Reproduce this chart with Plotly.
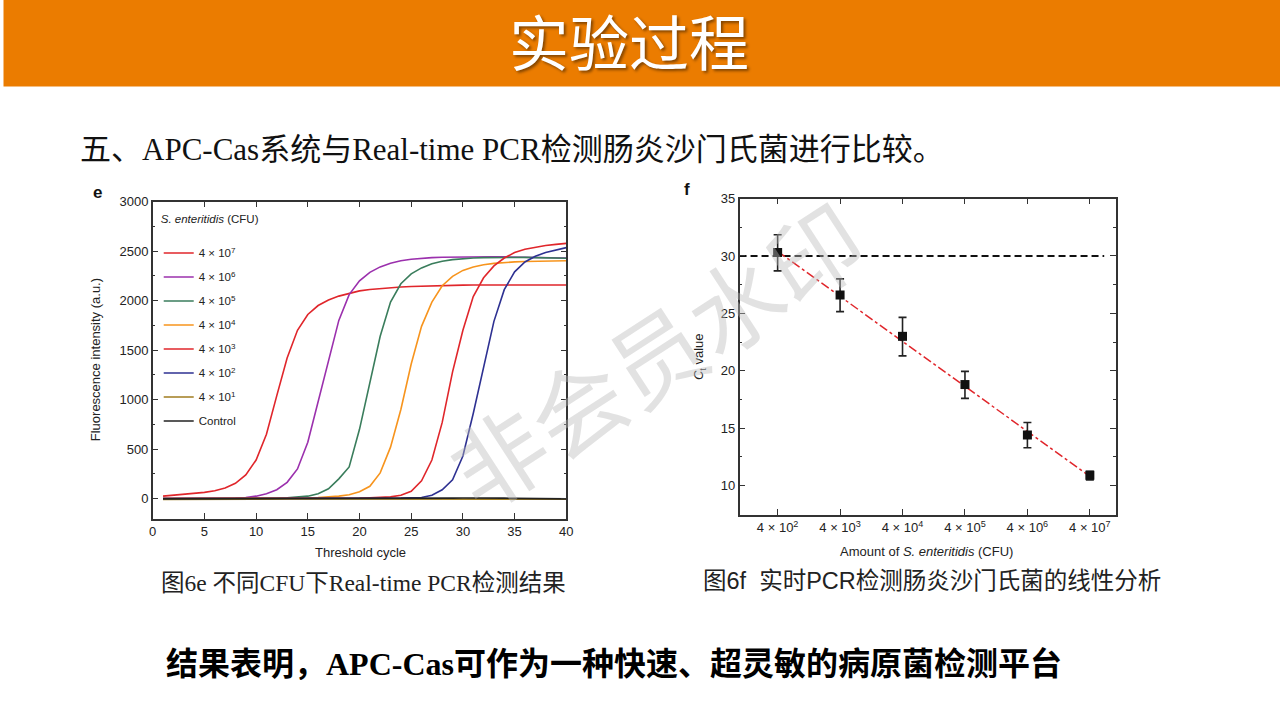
import plotly.graph_objects as go

W, H = 1280, 720
# the viewer maps the page slightly (scale ~0.99, offset ~2.5/7.5 px); positions are given in target pixels
S, OX, OY = 0.99, 2.5, 7.5
def px(x): return ((x - OX) / S) / W
def py(y): return 1 - ((y - OY) / S) / H

# ---------------- Data: panel e (qPCR amplification curves) ----------------
cycles = list(range(1, 41))
series_names = ["4 × 10<sup>7</sup>", "4 × 10<sup>6</sup>", "4 × 10<sup>5</sup>", "4 × 10<sup>4</sup>",
                "4 × 10<sup>3</sup>", "4 × 10<sup>2</sup>", "4 × 10<sup>1</sup>", "Control"]
series_colors = ["#e0262b", "#9b30ad", "#3a7d5c", "#f7941d", "#e0262b", "#2e3192", "#a07d1f", "#222222"]

cfu_4e7 = [25, 33, 42, 52, 63, 80, 108, 155, 240, 390, 650, 1040, 1420, 1700, 1860, 1950, 2005, 2045, 2075, 2098,
           2112, 2122, 2130, 2137, 2142, 2146, 2150, 2152, 2154, 2156, 2157, 2158, 2158, 2158, 2158, 2158, 2158, 2158, 2158, 2158]
cfu_4e6 = [0, 0, 0, 0, 0, 1, 2, 5, 12, 25, 50, 90, 165, 300, 570, 980, 1420, 1800, 2060, 2200,
           2285, 2340, 2378, 2402, 2418, 2428, 2434, 2438, 2440, 2441, 2442, 2442, 2442, 2441, 2440, 2438, 2436, 2434, 2432, 2430]
cfu_4e5 = [0, 0, 0, 0, 0, 0, 0, 0, 0, 0, 2, 4, 8, 14, 25, 50, 100, 200, 320, 700,
           1170, 1640, 1985, 2170, 2270, 2330, 2372, 2398, 2414, 2424, 2430, 2434, 2436, 2437, 2437, 2436, 2434, 2432, 2430, 2428]
cfu_4e4 = [0, 0, 0, 0, 0, 0, 0, 0, 0, 0, 0, 0, 2, 4, 6, 10, 15, 25, 40, 70,
           125, 260, 520, 900, 1360, 1740, 1985, 2150, 2245, 2305, 2340, 2362, 2376, 2385, 2391, 2395, 2398, 2400, 2401, 2402]
cfu_4e3 = [0, 0, 0, 0, 0, 0, 0, 0, 0, 0, 0, 0, 0, 0, 0, 0, 1, 2, 3, 5,
           8, 12, 18, 35, 75, 180, 390, 770, 1280, 1700, 2040, 2230, 2350, 2430, 2485, 2518, 2540, 2556, 2568, 2578]
cfu_4e2 = [0, 0, 0, 0, 0, 0, 0, 0, 0, 0, 0, 0, 0, 0, 0, 0, 0, 0, 0, 0,
           1, 2, 3, 5, 8, 12, 35, 90, 190, 430, 860, 1310, 1790, 2110, 2290, 2390, 2448, 2485, 2512, 2535]
cfu_4e1 = [-9, -8, -8, -7, -7, -6, -6, -6, -5, -5, -5, -5, -4, -4, -4, -4, -4, -4, -4, -4,
           -4, -4, -4, -4, -4, -4, -4, -4, -4, -3, -3, -3, -4, -4, -4, -5, -5, -5, -5, -5]
control = [-2, -2, -2, -1, -1, -1, -1, 0, 0, 0, 0, 0, 0, 0, 0, 0, 0, 0, 0, 0,
           0, 1, 1, 1, 2, 2, 3, 4, 5, 6, 7, 8, 7, 5, 3, 1, 0, -1, -2, -2]
series_values = [cfu_4e7, cfu_4e6, cfu_4e5, cfu_4e4, cfu_4e3, cfu_4e2, cfu_4e1, control]

# ---------------- Data: panel f (Ct vs. amount) ----------------
log_amount = [2, 3, 4, 5, 6, 7]
amount_labels = ["4 × 10<sup>2</sup>", "4 × 10<sup>3</sup>", "4 × 10<sup>4</sup>",
                 "4 × 10<sup>5</sup>", "4 × 10<sup>6</sup>", "4 × 10<sup>7</sup>"]
ct_values = [30.3, 26.6, 23.0, 18.8, 14.4, 10.9]
ct_err_plus = [1.55, 1.4, 1.65, 1.15, 1.1, 0.35]
ct_err_minus = [1.6, 1.45, 1.7, 1.2, 1.1, 0.4]
fit_x = [2, 7]
fit_y = [30.4, 10.8]
threshold_ct = 30
threshold_x = [1.39, 7.23]

FONT = "Liberation Sans"
AX = "#333333"

fig = go.Figure()

for name, col, vals in zip(series_names, series_colors, series_values):
    fig.add_trace(go.Scatter(
        x=cycles, y=vals, mode="lines", name=name, legendgroup=name,
        line=dict(color=col, width=1.6),
        xaxis="x", yaxis="y"))

fig.add_trace(go.Scatter(
    x=threshold_x, y=[threshold_ct, threshold_ct], mode="lines", showlegend=False,
    line=dict(color="#111111", width=2, dash="7px,4px"), xaxis="x2", yaxis="y2"))
fig.add_trace(go.Scatter(
    x=fit_x, y=fit_y, mode="lines", showlegend=False,
    line=dict(color="#e0262b", width=1.5, dash="dashdot"), xaxis="x2", yaxis="y2"))
fig.add_trace(go.Scatter(
    x=log_amount, y=ct_values, mode="markers", showlegend=False,
    marker=dict(symbol="square", size=9, color="#111111"),
    error_y=dict(type="data", symmetric=False, array=ct_err_plus, arrayminus=ct_err_minus,
                 color="#222222", thickness=1.6, width=4),
    xaxis="x2", yaxis="y2"))

axis_common = dict(showline=True, linecolor=AX, linewidth=1.5, mirror="ticks", ticks="inside",
                   tickcolor=AX, tickwidth=1.2, ticklen=6, showgrid=False, zeroline=False,
                   tickfont=dict(family=FONT, size=13, color="#222222"))

fig.update_layout(
    width=W, height=H, margin=dict(l=0, r=0, t=0, b=0),
    paper_bgcolor="white", plot_bgcolor="white",
    xaxis=dict(domain=[px(151), px(564)], range=[0, 40], tickvals=[0, 5, 10, 15, 20, 25, 30, 35, 40],
               anchor="y", **axis_common),
    yaxis=dict(domain=[py(519), py(202)], range=[-202, 3000], tickvals=[0, 500, 1000, 1500, 2000, 2500, 3000],
               anchor="x", minor=dict(ticks="inside", dtick=250, ticklen=3, tickcolor=AX), **axis_common),
    xaxis2=dict(domain=[px(737), px(1113)], range=[1.39, 7.42], tickvals=log_amount, ticktext=amount_labels,
                anchor="y2", **axis_common),
    yaxis2=dict(domain=[py(515), py(199)], range=[7.47, 35], tickvals=[10, 15, 20, 25, 30, 35],
                anchor="x2", minor=dict(ticks="inside", dtick=2.5, ticklen=3, tickcolor=AX), **axis_common),
    legend=dict(x=px(157), y=py(209), xanchor="left", yanchor="top", bgcolor="rgba(0,0,0,0)",
                font=dict(family=FONT, size=11.5, color="#222222"), tracegroupgap=5,
                title=dict(text="<i>S. enteritidis</i> (CFU)<br> ",
                           font=dict(family=FONT, size=11.5, color="#222222"))),
    showlegend=True,
)

# Header band
fig.add_shape(type="rect", xref="paper", yref="paper", x0=px(2), x1=px(1277), y0=py(87), y1=py(0),
              fillcolor="#eb7c00", line=dict(width=0), layer="below")

ann = []
def A(text, x, y, size, family, color="#111111", xanchor="left", **kw):
    ann.append(dict(text=text, x=px(x), y=py(y), xref="paper", yref="paper", showarrow=False,
                    xanchor=xanchor, yanchor="middle", font=dict(family=family, size=size, color=color), **kw))

A("实验过程", 627, 40, 60, "Noto Sans CJK SC", color="white", xanchor="center")
ann[-1]["font"]["shadow"] = "2px 2px 3px rgba(0,0,0,0.45)"
A("五、APC-Cas系统与Real-time PCR检测肠炎沙门氏菌进行比较。", 76, 150, 31, "Liberation Serif, Noto Sans CJK SC")
A("图6e 不同CFU下Real-time PCR检测结果", 157, 583, 23.5, "Liberation Serif, Noto Sans CJK SC", color="#222222")
A("图6f  实时PCR检测肠炎沙门氏菌的线性分析", 699, 581, 23.5, "Liberation Sans, Noto Sans CJK SC", color="#222222")
A("<b>结果表明，APC-Cas可作为一种快速、超灵敏的病原菌检测平台</b>", 162, 664, 32,
  "Liberation Serif, Noto Sans CJK SC", color="#000000")
A("<b>e</b>", 89, 193, 17, FONT)
A("<b>f</b>", 680, 190, 17, FONT)
A("Threshold cycle", 358, 553, 13, FONT, color="#222222", xanchor="center")
A("Fluorescence intensity (a.u.)", 94, 360, 13, FONT, color="#222222", xanchor="center", textangle=-90)
A("Amount of <i>S. enteritidis</i> (CFU)", 924, 552, 13, FONT, color="#222222", xanchor="center")
A("<i>C</i><sub>t</sub> value", 697, 357, 13, FONT, color="#222222", xanchor="center", textangle=-90)
# watermark
A("非会员水印", 652, 352, 94, "Noto Sans CJK SC", color="rgba(185,185,185,0.42)", xanchor="center", textangle=-33)

fig.update_layout(annotations=ann)
post = ("document.documentElement.style.margin='0';document.body.style.margin='0';"
        "document.body.style.overflow='hidden';document.documentElement.style.overflow='hidden';"
        "var d=document.getElementById('{plot_id}');d.style.position='fixed';d.style.left='0px';d.style.top='0px';")
fig.write_html("out.html", config={"displayModeBar": False}, post_script=post)
